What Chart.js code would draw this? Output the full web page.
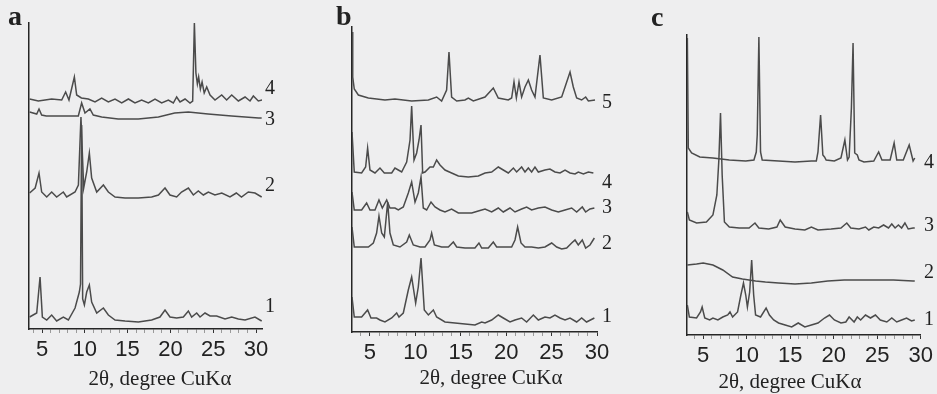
<!DOCTYPE html>
<html><head><meta charset="utf-8">
<script src="https://cdn.jsdelivr.net/npm/chart.js@4.4.1/dist/chart.umd.min.js"></script>
<style>
html,body{margin:0;padding:0;background:#eeeeef;}
#wrap{position:relative;width:937px;height:394px;overflow:hidden;background:#eeeeef;}
canvas{position:absolute;top:0;}
.t{position:absolute;font-family:"Liberation Serif","DejaVu Serif",serif;color:#222;white-space:nowrap;line-height:1;}
.lab{font-size:20px;transform:translateY(-50%);}
.axt{font-size:21px;transform:translate(-50%,-50%);}
.pl{font-size:28px;font-weight:bold;}
</style></head><body><div id="wrap">
<canvas id="ca" width="300" height="394" style="left:0px"></canvas>
<canvas id="cb" width="320" height="394" style="left:300px"></canvas>
<canvas id="cc" width="317" height="394" style="left:620px"></canvas>
<div class="t pl" style="left:8px;top:2px">a</div>
<div class="t pl" style="left:336px;top:2px">b</div>
<div class="t pl" style="left:651px;top:3px">c</div>
<div class="t axt" style="left:160px;top:378px">2θ, degree CuKα</div>
<div class="t axt" style="left:491px;top:377px">2θ, degree CuKα</div>
<div class="t axt" style="left:790px;top:381px">2θ, degree CuKα</div>
<div class="t lab" style="left:265px;top:87px">4</div>
<div class="t lab" style="left:265px;top:118px">3</div>
<div class="t lab" style="left:265px;top:184px">2</div>
<div class="t lab" style="left:265px;top:305px">1</div>
<div class="t lab" style="left:602px;top:101px">5</div>
<div class="t lab" style="left:602px;top:181px">4</div>
<div class="t lab" style="left:602px;top:206px">3</div>
<div class="t lab" style="left:602px;top:242px">2</div>
<div class="t lab" style="left:602px;top:315px">1</div>
<div class="t lab" style="left:924px;top:161px">4</div>
<div class="t lab" style="left:924px;top:224px">3</div>
<div class="t lab" style="left:924px;top:271px">2</div>
<div class="t lab" style="left:924px;top:318px">1</div>
</div>
<script>
// x tick labels (2θ, degrees)
const tickLabels = [5, 10, 15, 20, 25, 30];

// ---------- panel a (intensity, a.u., curves offset for clarity) ----------
const a1x = [3.55,4.38,4.77,5.04,5.55,6.13,6.71,7.49,8.08,8.86,9.36,9.5,9.63,9.75,9.95,10.22,10.53,10.8,11.39,12.17,12.75,13.53,14.7,16.25,17.81,18.78,19.37,19.95,20.73,21.51,22.1,22.48,23.07,23.46,24.04,24.63,25.4,26.38,27.16,27.94,28.72,29.88,30.66];
const a1y = [12,16,52,12,9,14,8,12,9,21,37,45,204,30,24,37,44,27,16,21,14,9,8,7,9,12,19,12,11,12,18,12,16,12,16,13,13,10,12,10,9,12,8];
const a2x = [3.55,4.2,4.65,4.96,5.55,6.13,6.71,7.49,7.88,8.86,9.25,9.55,9.87,10.22,10.53,10.8,11.39,12.17,12.75,13.53,14.7,16.25,17.81,18.6,19.37,19.95,20.73,21.3,22.1,22.68,23.26,23.85,24.43,25.2,26.0,26.96,27.7,28.3,29.1,29.88,30.66];
const a2y = [136,141,156,137,132,137,132,137,132,137,144,212,141,157,176,151,137,144,137,132,131,131,132,134,141,134,132,137,141,134,138,134,137,134,136,132,136,132,137,136,132];
const a3x = [3.55,4.38,4.65,4.96,5.5,9.24,9.63,10.02,10.6,10.99,11.97,13.9,16.25,18.6,20.5,22.1,24.4,27.16,30.3,30.66];
const a3y = [217,215,220,214,213,213,226,216,220,214,212,210,210,212,216,217,215,213,211,211];
const a4x = [3.55,4.57,6.13,7.3,7.76,8.15,8.78,9.05,9.6,10.41,11.19,11.97,12.75,13.53,14.31,15.09,15.86,16.64,17.42,18.2,18.98,19.76,20.34,20.73,21.12,21.71,22.29,22.6,22.8,22.98,23.15,23.3,23.5,23.7,23.95,24.24,24.63,25.21,25.99,26.57,27.16,27.94,28.72,29.3,29.69,30.27,30.74];
const a4y = [230,228,230,229,237,229,252,234,231,230,227,231,227,230,226,230,226,229,226,230,226,229,226,232,227,230,226,228,306,256,245,252,240,247,236,242,234,229,234,229,234,228,232,228,233,228,229];

// ---------- panel b ----------
const b1x = [3.02,3.27,4.08,4.74,5.11,5.73,6.1,6.65,7.39,7.94,8.19,8.67,9.22,9.59,10.03,10.32,10.62,10.98,11.43,11.98,12.34,13.26,14.36,15.46,16.56,17.3,17.67,18.4,19.13,19.68,20.42,20.97,21.7,22.25,22.99,23.54,24.27,24.82,25.37,25.93,26.48,27.03,27.76,28.31,28.85,29.71];
const b1y = [35,15,15,22,14,14,12,10,14,19,15,19,42,55,29,45,74,22,17,22,15,10,9,8,7,10,9,12,17,14,10,12,14,10,17,12,15,14,17,14,12,14,10,14,10,14];
const b2x = [3.02,3.27,4.08,4.82,5.37,5.73,5.99,6.29,6.58,6.76,6.95,7.2,7.57,8.3,9.04,9.33,9.77,10.51,11.06,11.61,11.79,12.09,12.89,13.63,14.18,14.55,15.46,16.56,17.0,17.3,18.03,18.58,18.95,19.87,20.6,20.97,21.26,21.63,22.07,22.8,23.54,24.27,25.01,25.56,26.11,26.66,27.21,27.58,27.94,28.38,28.75,29.23,29.71];
const b2y = [105,85,85,85,89,99,116,99,95,112,130,99,87,85,90,97,87,85,85,92,99,87,85,85,90,85,84,84,89,84,84,90,85,85,85,92,105,89,85,85,84,85,89,85,83,84,89,92,87,92,84,87,94];
const b3x = [3.02,3.27,4.08,4.63,5.0,5.55,5.99,6.36,6.84,7.2,7.75,8.12,8.67,9.22,9.59,9.96,10.32,10.62,10.87,11.24,11.72,12.16,12.71,13.26,13.99,14.73,16.2,16.93,17.67,18.4,19.13,19.68,20.42,20.97,21.7,22.25,22.8,23.54,24.27,25.01,25.74,26.48,27.21,27.76,28.38,28.75,29.23,29.71];
const b3y = [140,122,122,129,122,122,132,124,132,124,124,122,125,139,150,130,139,155,124,122,130,125,122,120,123,119,119,121,123,120,124,120,124,120,123,125,122,124,125,122,120,122,124,120,125,120,123,124];
const b4x = [3.02,3.27,4.08,4.52,4.74,5.0,5.55,6.1,6.58,7.39,7.75,8.12,8.49,9.04,9.41,9.59,9.85,10.14,10.4,10.62,10.8,11.06,11.61,11.98,12.34,12.71,13.26,13.99,14.73,15.83,16.93,17.67,18.4,19.13,19.68,20.23,20.79,21.15,21.7,22.07,22.44,22.8,23.17,23.54,24.27,24.82,25.37,25.93,26.48,27.03,27.58,27.94,28.5,29.05,29.6];
const b4y = [200,160,159,165,184,162,159,164,159,159,164,162,160,170,192,226,172,179,192,207,159,160,165,165,172,167,162,159,156,155,156,159,160,165,162,159,164,160,165,160,164,160,165,160,162,163,160,159,162,159,158,160,158,160,159];
const b5x = [3.02,3.1,3.27,3.72,4.82,6.65,7.75,9.59,11.43,12.34,12.89,13.44,13.7,13.99,14.55,15.46,15.83,16.38,17.67,18.58,19.13,20.23,20.6,20.86,21.12,21.41,21.7,22.07,22.44,22.8,23.17,23.72,24.09,25.01,26.11,26.48,27.03,27.39,27.76,28.31,28.75,29.05,29.78];
const b5y = [300,255,243,237,234,232,233,231,232,235,231,242,280,235,231,232,234,231,235,244,234,232,234,250,234,250,235,245,252,242,235,277,234,232,235,245,260,245,234,232,235,231,232];

// ---------- panel c ----------
const c1x = [3.18,3.41,4.24,4.69,4.88,5.18,5.74,6.12,6.69,7.25,7.82,8.08,8.38,8.95,9.33,9.63,9.89,10.08,10.34,10.57,10.8,11.02,11.59,12.23,12.61,13.1,13.66,14.42,15.17,15.92,16.68,17.43,18.19,18.94,19.51,20.07,20.83,21.39,21.77,22.34,22.71,23.09,23.65,24.22,24.79,25.35,26.1,26.67,27.24,27.8,28.37,28.94,29.31];
const c1y = [30,18,17,23,28,17,15,17,15,18,20,23,18,23,40,52,40,28,43,75,40,20,18,27,20,15,12,10,8,12,8,10,12,17,20,15,12,13,18,13,18,15,20,17,20,15,13,17,13,15,17,14,15];
const c2x = [3.18,4.24,5.0,6.12,7.25,8.38,9.51,11.02,12.15,13.66,15.55,17.43,19.32,21.2,23.09,24.97,26.86,29.12,29.31];
const c2y = [70,71,72,70,65,58,56,54,53,52,51,52,54,55,55,55,55,54,54];
const c3x = [3.18,3.41,4.24,5.37,6.12,6.57,6.8,6.99,7.18,7.44,8.0,9.14,10.27,10.95,11.4,12.53,13.47,13.85,14.42,15.55,16.68,17.43,18.19,19.7,20.83,21.5,21.96,22.9,23.65,24.03,24.6,25.16,25.73,26.29,26.67,27.05,27.43,27.8,28.18,28.56,29.12,29.31];
const c3y = [123,115,112,113,120,140,175,222,160,113,108,107,107,112,107,106,108,115,108,106,105,108,105,106,107,112,107,106,108,105,108,107,110,107,111,107,110,107,112,106,107,107];
const c4x = [3.18,3.29,3.67,4.61,6.12,8.0,9.89,10.83,11.1,11.21,11.4,11.59,11.78,13.66,15.55,17.43,18.0,18.19,18.49,18.75,18.94,19.13,20.07,20.83,21.28,21.58,21.77,22.03,22.22,22.41,22.71,22.9,23.47,24.6,24.97,25.16,25.54,26.48,26.94,27.24,27.99,28.67,29.12,29.31];
const c4y = [297,187,182,178,177,175,174,175,183,200,298,183,175,174,173,174,174,183,220,180,178,175,174,177,195,175,178,227,292,182,180,175,173,174,180,183,175,175,192,175,175,190,174,177];

const lineColor = '#4b4b4b';
const axisColor = '#262626';

const panels = [
  {id:'ca', left:0,   w:300, area:{l:29,  r:262, t:23, b:329}, xr:[3.48,30.7], yr:[0,306],
   series:[[a1x,a1y],[a2x,a2y],[a3x,a3y],[a4x,a4y]]},
  {id:'cb', left:300, w:320, area:{l:352, r:597, t:27, b:332}, xr:[3.02,30.0], yr:[0,305],
   series:[[b1x,b1y],[b2x,b2y],[b3x,b3y],[b4x,b4y],[b5x,b5y]]},
  {id:'cc', left:620, w:317, area:{l:687, r:921, t:35, b:335}, xr:[3.14,30.0], yr:[0,300],
   series:[[c1x,c1y],[c2x,c2y],[c3x,c3y],[c4x,c4y]]}
];

panels.forEach(p => {
  const H = 394;
  const xH = H - p.area.b;
  Chart.defaults.font.family = '"Liberation Sans", Arial, sans-serif';
  new Chart(document.getElementById(p.id), {
    type: 'line',
    data: {
      datasets: p.series.map(([xs, ys]) => ({
        data: xs.map((x, i) => ({x, y: ys[i]})),
        borderColor: lineColor,
        borderWidth: 1.5,
        pointRadius: 0,
        tension: 0,
        fill: false
      }))
    },
    options: {
      responsive: false,
      animation: false,
      events: [],
      layout: {padding: {left: p.area.l - p.left, right: p.left + p.w - p.area.r, top: p.area.t, bottom: 0}},
      plugins: {legend: {display: false}, tooltip: {enabled: false}, title: {display: false}},
      scales: {
        x: {
          type: 'linear', min: p.xr[0], max: p.xr[1],
          afterFit: s => { s.height = xH; },
          afterBuildTicks: s => {
            const t = [];
            for (let v = Math.ceil(p.xr[0]); v <= Math.floor(p.xr[1]); v++) t.push({value: v});
            s.ticks = t;
          },
          ticks: {
            autoSkip: false, maxRotation: 0, minRotation: 0, padding: 4,
            color: '#222', font: {size: 22},
            callback: v => tickLabels.includes(v) ? String(v) : ''
          },
          grid: {
            drawOnChartArea: false, drawTicks: true, tickLength: 4,
            color: c => (c.tick && tickLabels.includes(c.tick.value)) ? '#333' : '#9a9a9a'
          },
          border: {display: true, color: axisColor, width: 1.5}
        },
        y: {
          type: 'linear', min: p.yr[0], max: p.yr[1],
          afterFit: s => { s.width = 0; },
          ticks: {display: false},
          grid: {display: false},
          border: {display: true, color: axisColor, width: 1.5}
        }
      }
    }
  });
});
</script>
</body></html>
